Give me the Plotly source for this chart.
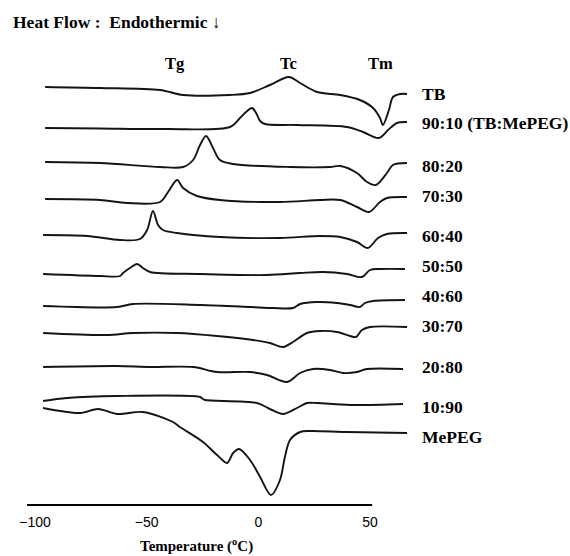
import plotly.graph_objects as go

# Sample names (top to bottom)
names = ["TB", "90:10 (TB:MePEG)", "80:20", "70:30", "60:40", "50:50",
         "40:60", "30:70", "20:80", "10:90", "MePEG"]

# Temperatures (°C) and heat-flow deviations (a.u., up = exothermic)
t_TB = [-95.5, -70.9, -44.0, -33.7, -12.7, -3.7, 5.2, 13.7, 18.7, 26.3, 36.7, 45.5, 51.4, 54.5, 55.8, 58.5, 60.3, 63.5, 66.6]
h_TB = [7, 6, 4, -1, -1, 1, 9, 17, 11, 2, -1, -6, -14, -24, -31, -16, -3, 0, 0]

t_90 = [-95.5, -70.9, -40.9, -12.7, -8.2, -5.5, -2.8, -1.0, 0.8, 3.0, 17.3, 39.7, 46.9, 54.0, 58.1, 62.1, 66.6]
h_90 = [-6, -6.5, -7, -5, 4, 10, 14, 9, 1, -2, -3, -5, -10, -16, -8, -1, 0]

t_80 = [-95.5, -70.9, -44.0, -33.7, -29.2, -26.1, -23.4, -20.3, -17.2, -11.3, 14.2, 32.1, 36.7, 44.2, 48.7, 52.7, 57.6, 60.3, 66.6]
h_80 = [1, 0, -4, -4, 3, 18, 27, 15, 3, -1, -4, -4, -3, -10, -19, -22, -10, -2, 0]

t_70 = [-95.5, -70.9, -58.8, -44.0, -40.4, -36.4, -33.7, -27.5, -17.2, 9.7, 27.6, 36.7, 44.2, 49.6, 54.5, 57.6, 66.6]
h_70 = [-2, -3, -6, -5, 5, 17, 9, 1, -3, -5, -3, -3, -10, -15, -5, -1, 0]

t_60 = [-96.4, -76.7, -61.9, -53.0, -49.8, -47.2, -44.9, -42.7, -36.4, -17.2, 9.7, 27.6, 36.7, 44.2, 49.1, 53.6, 57.6, 66.6]
h_60 = [-2, -3, -7, -6, 3, 22, 8, 3, 0, -4, -5, -3, -4, -9, -15, -5, -1, 0]

t_50 = [-96.4, -70.9, -61.9, -60.6, -57.5, -54.3, -51.7, -48.5, -26.1, 3.9, 18.7, 29.0, 39.7, 46.4, 50.0, 54.5, 65.7]
h_50 = [-5, -7, -7, -4, 1, 5, 1, -3, -5, -6, -4, -3, -5, -8, -1, 0, 0]

t_40 = [-96.4, -63.3, -56.1, -26.1, -3.7, 6.6, 15.5, 18.7, 26.3, 35.2, 41.1, 45.5, 47.8, 51.4, 65.7]
h_40 = [-6, -7, -4, -5, -7, -8, -8, -4, -2, -3, -5, -7, -3, -1, 0]

t_30 = [-96.4, -67.8, -56.1, -36.4, -18.5, -2.4, 5.2, 11.1, 15.5, 21.8, 27.6, 35.2, 41.1, 43.8, 46.4, 50.0, 66.6]
h_30 = [-6, -8, -6, -6, -9, -13, -16, -20, -15, -6, -4, -5, -9, -10, -3, 0, 0]

t_20 = [-96.4, -63.3, -48.5, -29.2, -18.5, -3.7, 3.9, 12.9, 18.7, 24.5, 32.1, 37.9, 44.2, 48.7, 64.8]
h_20 = [2, 3, 2, 2, -3, -3, -6, -13, -4, 0, -1, -4, -3, 0, 0]

t_10 = [-96.4, -85.7, -63.3, -26.1, -24.8, -23.9, -0.6, 5.2, 11.1, 17.3, 21.8, 26.3, 41.1, 64.8]
h_10 = [3, 6, 8, 7, 5, 4, 1, -5, -10, -4, 1, 1, -1, 0]

t_Me = [-96.4, -79.8, -71.7, -63.3, -51.6, -38.2, -35.1, -24.8, -18.5, -14.0, -11.3, -8.6, -3.7, 0.8, 5.7, 9.7, 11.9, 14.2, 18.7, 23.2, 39.7, 66.6]
h_Me = [25, 20, 24, 19, 21, 11, 6, -9, -22, -30, -20, -16, -27, -44, -62, -47, -24, -7, 1, 2, 1, 0]

temps = [t_TB, t_90, t_80, t_70, t_60, t_50, t_40, t_30, t_20, t_10, t_Me]
flows = [h_TB, h_90, h_80, h_70, h_60, h_50, h_40, h_30, h_20, h_10, h_Me]

# vertical stacking offsets of each trace (a.u.)
offsets = [-94, -122, -163, -197, -233, -269, -300, -327, -369, -404, -433]
# small vertical nudges of the sample labels relative to their trace
label_nudge = [0, -1, -3, 1, -3, 3, 4, 1, 2, -3, -4]

tick_vals = [-100, -50, 0, 50]
tick_text = ["\u2212100", "\u221250", "0", "50"]

transitions = ["Tg", "Tc", "Tm"]
transition_t = [-37.5, 13.3, 54.8]

fig = go.Figure()
for t, h, off in zip(temps, flows, offsets):
    fig.add_trace(go.Scatter(
        x=t, y=[off + v for v in h], mode="lines",
        line=dict(color="#141414", width=1.9, shape="spline", smoothing=0.9),
        hoverinfo="skip", showlegend=False))

serif = "Liberation Serif, Times New Roman, serif"
ann = []
for name, off, nd in zip(names, offsets, label_nudge):
    ann.append(dict(x=72.4, y=off + nd, xref="x", yref="y", text="<b>%s</b>" % name,
                    showarrow=False, xanchor="left", yanchor="middle",
                    font=dict(family=serif, size=17.5, color="black")))
for lab, tx in zip(transitions, transition_t):
    ann.append(dict(x=tx, y=-63, xref="x", yref="y", text="<b>%s</b>" % lab,
                    showarrow=False, xanchor="center", yanchor="middle",
                    font=dict(family=serif, size=16.5, color="black")))
ann.append(dict(x=11 / 570, y=-22, xref="paper", yref="y", text="<b>Heat Flow :  Endothermic \u2193</b>",
                showarrow=False, xanchor="left", yanchor="middle",
                font=dict(family=serif, size=17.5, color="black")))
ann.append(dict(x=-27.5, y=-51.5 / 505, xref="x", yref="paper",
                text="<b>Temperature (<sup>o</sup>C)</b>",
                showarrow=False, xanchor="center", yanchor="bottom",
                font=dict(family=serif, size=15, color="black")))

fig.add_shape(type="line", x0=-103.6, x1=51.0, y0=0, y1=0, xref="x", yref="paper",
              line=dict(color="black", width=2))

fig.update_layout(
    width=570, height=556,
    margin=dict(l=0, r=0, t=0, b=51),
    paper_bgcolor="white", plot_bgcolor="white",
    annotations=ann,
    xaxis=dict(range=[-115.7, 139.6], showgrid=False, zeroline=False, showline=False,
               tickvals=tick_vals, ticktext=tick_text, ticks="outside", ticklen=4,
               tickcolor="rgba(0,0,0,0)",
               tickfont=dict(family="Liberation Sans, Arial, sans-serif", size=14, color="black")),
    yaxis=dict(range=[-505, 0], showgrid=False, zeroline=False, showline=False,
               showticklabels=False, ticks=""),
)

fig.write_html("out.html")
